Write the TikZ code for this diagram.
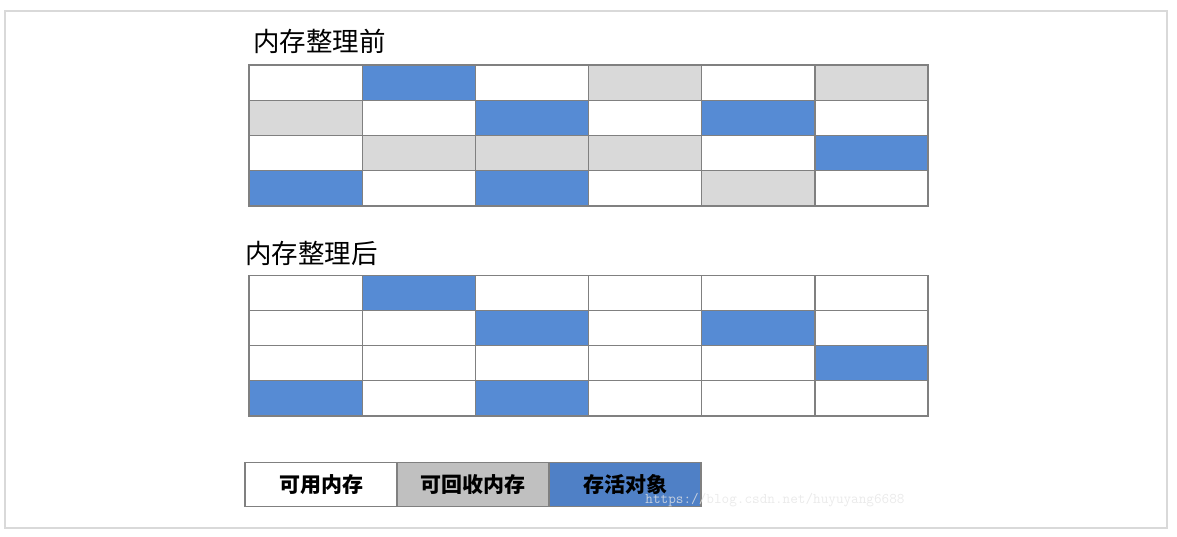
\documentclass[tikz,border=0pt]{standalone}
\usepackage{fontspec}
\usepackage{tikz}
\usetikzlibrary{positioning}
\newfontfamily\cjk{Noto Sans CJK SC}

\definecolor{free}{HTML}{FFFFFF}
\definecolor{dead}{HTML}{D9D9D9}
\definecolor{live}{HTML}{568BD4}
\definecolor{keydead}{HTML}{C0C0C0}
\definecolor{keylive}{HTML}{4F80C6}
\definecolor{gridline}{HTML}{808080}

\begin{document}
\begin{tikzpicture}[
    x=1pt, y=-1pt,
    cell/.style={rectangle, draw=gridline, line width=1.3pt, minimum width=113.17pt, minimum height=35.25pt, inner sep=0pt, outer sep=0pt},
    keycell/.style={rectangle, draw=gridline, line width=1.3pt, minimum width=152pt, minimum height=44pt, inner sep=0pt, outer sep=0pt, font=\cjk\bfseries\fontsize{21}{21}\selectfont},
    heading/.style={anchor=west, inner sep=0pt, font=\cjk\fontsize{26.5}{26.5}\selectfont},
    framebox/.style={draw=black!15, line width=2pt}
]
\useasboundingbox (0,0) rectangle (1177,536);

% Outer frame
\draw[framebox] (5,11) rectangle (1167,528);

% Before compaction
\node[heading] (before) at (253,41) {内存整理前};
\foreach \r/\row in {1/{free,live,free,dead,free,dead},
                     2/{dead,free,live,free,live,free},
                     3/{free,dead,dead,dead,free,live},
                     4/{live,free,live,free,dead,free}}
  \foreach \f [count=\c] in \row
    \node[cell, fill=\f] (pre-\r-\c) at ({249+113.17*(\c-0.5)}, {65+35.25*(\r-0.5)}) {};

% After compaction
\node[heading] (after) at (245,253) {内存整理后};
\foreach \r/\row in {1/{free,live,free,free,free,free},
                     2/{free,free,live,free,live,free},
                     3/{free,free,free,free,free,live},
                     4/{live,free,live,free,free,free}}
  \foreach \f [count=\c] in \row
    \node[cell, fill=\f] (post-\r-\c) at ({249+113.17*(\c-0.5)}, {275.5+35.1*(\r-0.5)}) {};

% Legend
\node[keycell, fill=free] (keyfree) at (321,484.5) {可用内存};
\node[keycell, fill=keydead, right=0pt of keyfree] (keydead) {可回收内存};
\node[keycell, fill=keylive, right=0pt of keydead] (keylive) {存活对象};

% Watermark
\node[text=black!10, opacity=0.8, font=\ttfamily\fontsize{14.8}{14.8}\selectfont, inner sep=0pt] (mark) at (775,500) {https://blog.csdn.net/huyuyang6688};

\end{tikzpicture}
\end{document}
